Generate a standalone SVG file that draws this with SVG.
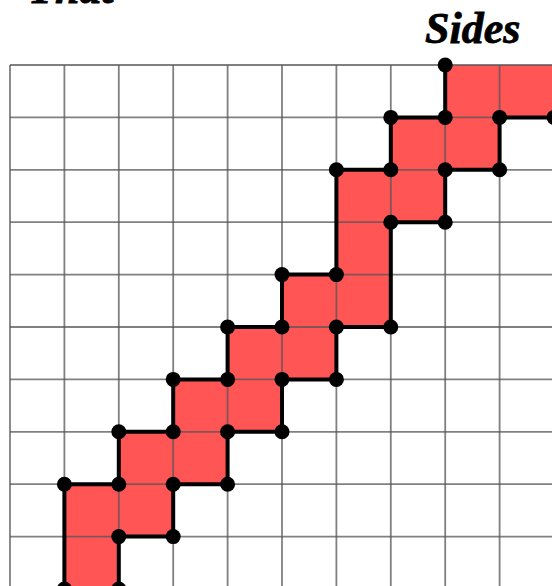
<svg xmlns="http://www.w3.org/2000/svg" width="552" height="586" viewBox="0 0 552 586">
<style>
.grid line{stroke:#555;stroke-width:1.8;stroke-opacity:0.75}
.outline{fill:none;stroke:#000;stroke-width:4;stroke-linejoin:miter}
.dot{fill:#000}
.lbl{font-family:"Liberation Serif","Times New Roman",serif;font-weight:bold;font-style:italic;font-size:44px;fill:#000;stroke:#000;stroke-width:0.8}
</style>
<rect width="552" height="586" fill="#fff"/>
<g id="fill">
<polygon fill="#FF5555" points="445.2,65 554,65 554,117.4 499.6,117.4 499.6,169.8 445.2,169.8 445.2,222.2 390.8,222.2 390.8,327 336.4,327 336.4,379.4 282,379.4 282,431.8 227.6,431.8 227.6,484.2 173.2,484.2 173.2,536.6 118.8,536.6 118.8,589 64.4,589 64.4,484.2 118.8,484.2 118.8,431.8 173.2,431.8 173.2,379.4 227.6,379.4 227.6,327 282,327 282,274.6 336.4,274.6 336.4,169.8 390.8,169.8 390.8,117.4 445.2,117.4"/>
</g>
<g id="grid" class="grid">
<line x1="10" y1="65" x2="10" y2="590"/>
<line x1="64.4" y1="65" x2="64.4" y2="590"/>
<line x1="118.8" y1="65" x2="118.8" y2="590"/>
<line x1="173.2" y1="65" x2="173.2" y2="590"/>
<line x1="227.6" y1="65" x2="227.6" y2="590"/>
<line x1="282" y1="65" x2="282" y2="590"/>
<line x1="336.4" y1="65" x2="336.4" y2="590"/>
<line x1="390.8" y1="65" x2="390.8" y2="590"/>
<line x1="445.2" y1="65" x2="445.2" y2="590"/>
<line x1="499.6" y1="65" x2="499.6" y2="590"/>
<line x1="10" y1="65" x2="554" y2="65"/>
<line x1="10" y1="117.4" x2="554" y2="117.4"/>
<line x1="10" y1="169.8" x2="554" y2="169.8"/>
<line x1="10" y1="222.2" x2="554" y2="222.2"/>
<line x1="10" y1="274.6" x2="554" y2="274.6"/>
<line x1="10" y1="327" x2="554" y2="327"/>
<line x1="10" y1="379.4" x2="554" y2="379.4"/>
<line x1="10" y1="431.8" x2="554" y2="431.8"/>
<line x1="10" y1="484.2" x2="554" y2="484.2"/>
<line x1="10" y1="536.6" x2="554" y2="536.6"/>
</g>
<g id="connectors">
<polyline class="outline" points="445.2,65 445.2,117.4 390.8,117.4 390.8,169.8 336.4,169.8 336.4,274.6 282,274.6 282,327 227.6,327 227.6,379.4 173.2,379.4 173.2,431.8 118.8,431.8 118.8,484.2 64.4,484.2 64.4,592"/>
<polyline class="outline" points="556,117.4 499.6,117.4 499.6,169.8 445.2,169.8 445.2,222.2 390.8,222.2 390.8,327 336.4,327 336.4,379.4 282,379.4 282,431.8 227.6,431.8 227.6,484.2 173.2,484.2 173.2,536.6 118.8,536.6 118.8,592"/>
</g>
<g id="dots">
<circle class="dot" cx="445.2" cy="65" r="7.5"/>
<circle class="dot" cx="445.2" cy="117.4" r="7.5"/>
<circle class="dot" cx="390.8" cy="117.4" r="7.5"/>
<circle class="dot" cx="390.8" cy="169.8" r="7.5"/>
<circle class="dot" cx="336.4" cy="169.8" r="7.5"/>
<circle class="dot" cx="336.4" cy="274.6" r="7.5"/>
<circle class="dot" cx="282" cy="274.6" r="7.5"/>
<circle class="dot" cx="282" cy="327" r="7.5"/>
<circle class="dot" cx="227.6" cy="327" r="7.5"/>
<circle class="dot" cx="227.6" cy="379.4" r="7.5"/>
<circle class="dot" cx="173.2" cy="379.4" r="7.5"/>
<circle class="dot" cx="173.2" cy="431.8" r="7.5"/>
<circle class="dot" cx="118.8" cy="431.8" r="7.5"/>
<circle class="dot" cx="118.8" cy="484.2" r="7.5"/>
<circle class="dot" cx="64.4" cy="484.2" r="7.5"/>
<circle class="dot" cx="64.4" cy="589" r="7.5"/>
<circle class="dot" cx="554" cy="117.4" r="7.5"/>
<circle class="dot" cx="499.6" cy="117.4" r="7.5"/>
<circle class="dot" cx="499.6" cy="169.8" r="7.5"/>
<circle class="dot" cx="445.2" cy="169.8" r="7.5"/>
<circle class="dot" cx="445.2" cy="222.2" r="7.5"/>
<circle class="dot" cx="390.8" cy="222.2" r="7.5"/>
<circle class="dot" cx="390.8" cy="327" r="7.5"/>
<circle class="dot" cx="336.4" cy="327" r="7.5"/>
<circle class="dot" cx="336.4" cy="379.4" r="7.5"/>
<circle class="dot" cx="282" cy="379.4" r="7.5"/>
<circle class="dot" cx="282" cy="431.8" r="7.5"/>
<circle class="dot" cx="227.6" cy="431.8" r="7.5"/>
<circle class="dot" cx="227.6" cy="484.2" r="7.5"/>
<circle class="dot" cx="173.2" cy="484.2" r="7.5"/>
<circle class="dot" cx="173.2" cy="536.6" r="7.5"/>
<circle class="dot" cx="118.8" cy="536.6" r="7.5"/>
<circle class="dot" cx="118.8" cy="589" r="7.5"/>
</g>
<g id="labels">
<text class="lbl" x="28" y="3">That</text>
<text class="lbl" x="425" y="43">Sides</text>
</g>
</svg>
